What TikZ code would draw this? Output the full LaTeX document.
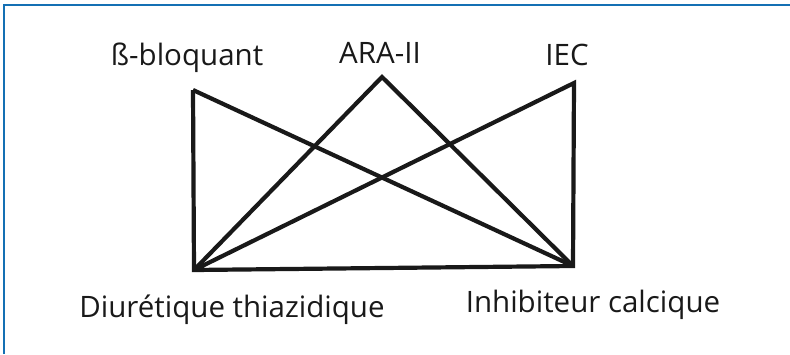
\documentclass[tikz,border=0pt]{standalone}
\usepackage{fontspec}
\setmainfont{Open Sans}
\definecolor{framebleu}{HTML}{1470B4}
\tikzset{
  lien/.style={line width=4.2pt, black!90},
  etiquette/.style={anchor=base, inner sep=0pt, font=\fontsize{29.5}{34}\selectfont, text=black!90}
}
\begin{document}
\begin{tikzpicture}[x=1pt, y=-1pt]
    \useasboundingbox (0,0) rectangle (790,354);
    \draw[framebleu, line width=1.6pt] (4,354) -- (4,5) -- (790,5);
    % sommets
    \coordinate (beta) at (193,90);
    \coordinate (ara) at (382,77);
    \coordinate (iec) at (574,83);
    \coordinate (diur) at (194,270);
    \coordinate (inhib) at (573,266);
    % liens
    \draw[lien] (beta) -- (diur) -- (inhib) -- (iec) -- (diur);
    \draw[lien] (beta) -- (inhib);
    \draw[lien] (diur) -- (ara) -- (inhib);
    % noms
    \node[etiquette] (nbeta) at (187,65) {ß-bloquant};
    \node[etiquette] (nara) at (380,63) {ARA-II};
    \node[etiquette] (niec) at (567,65) {IEC};
    \node[etiquette] (ndiur) at (232,317) {Diurétique thiazidique};
    \node[etiquette] (ninhib) at (593,312) {Inhibiteur calcique};
\end{tikzpicture}
\end{document}
